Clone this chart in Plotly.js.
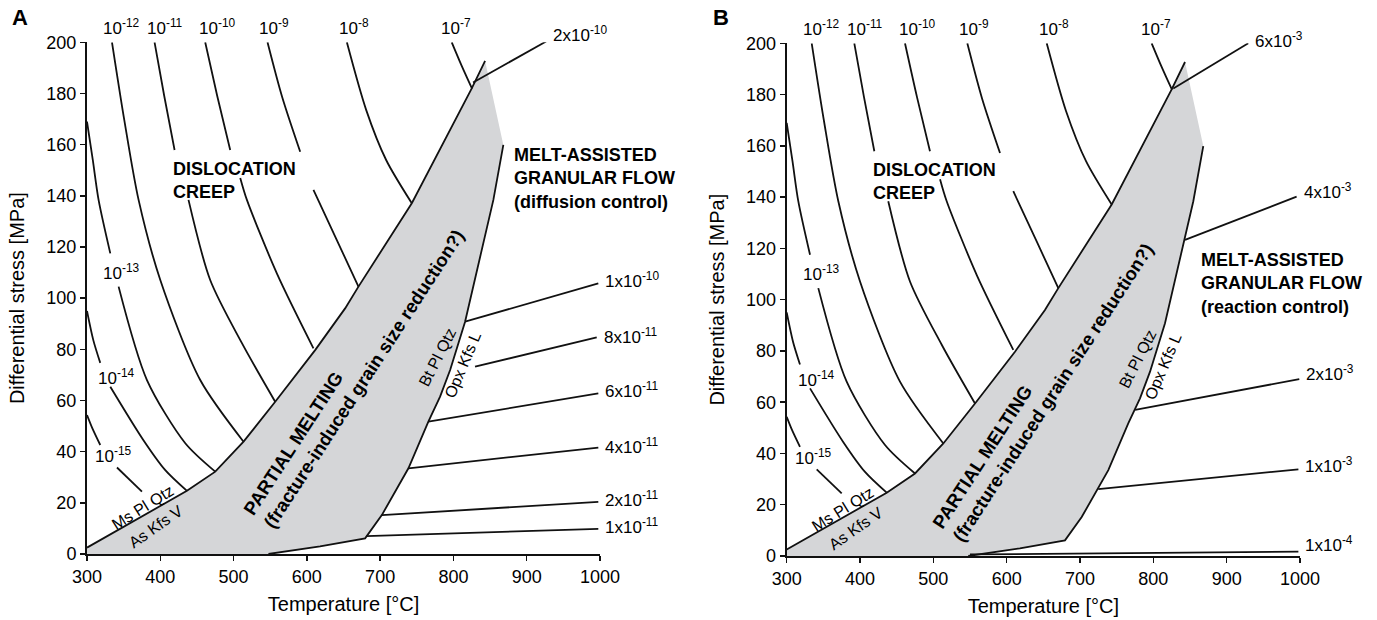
<!DOCTYPE html>
<html><head><meta charset="utf-8">
<script src="https://cdn.plot.ly/plotly-3.0.1.min.js"></script>
<style>html,body{margin:0;padding:0;background:#fff}#chart{width:1377px;height:620px}</style>
</head><body><div id="chart"></div>
<script>
// ---------- DATA ----------
const xTicks = [300, 400, 500, 600, 700, 800, 900, 1000];
const yTicks = [0, 20, 40, 60, 80, 100, 120, 140, 160, 180, 200];

// Dislocation-creep iso-strain-rate contours (T in °C, stress in MPa; null = label gap)
const creepLabels = ['10<sup>-15</sup>', '10<sup>-14</sup>', '10<sup>-13</sup>', '10<sup>-12</sup>',
                     '10<sup>-11</sup>', '10<sup>-10</sup>', '10<sup>-9</sup>', '10<sup>-8</sup>', '10<sup>-7</sup>'];
const c15T = [300, 307.2, 318.1, null, 340.9, 375.0];
const c15S = [54.3, 49.2, 42.6, null, 33.8, 24.4];
const c14T = [300, 308.6, 318.1, null, 331.8, 376.8, 406.8, 436.4];
const c14S = [95.0, 83.6, 74.7, null, 65.4, 44.6, 32.8, 24.7];
const c13T = [300, 307.9, 315.8, 331.8, null, 343.1, 381.8, 434.1, 475.0];
const c13S = [169.0, 154.0, 138.4, 117.5, null, 104.5, 68.0, 43.3, 32.2];
const c12T = [334.1, 350.9, 370.4, 400.0, 454.5, 513.6];
const c12S = [200, 169.6, 138.4, 107.1, 68.0, 43.9];
const c11T = [392.2, 405.4, 419.5, null, 438.5, 468.1, 511.4, 556.8];
const c11S = [200, 179.0, 157.9, null, 138.4, 107.1, 82.4, 59.5];
const c10T = [461.3, 477.7, 495.4, null, 509.1, 518.2, 559.5, 609.0];
const c10S = [200, 179.0, 157.9, null, 147.0, 138.4, 109.4, 80.4];
const c9T = [546.3, 566.3, 590.9, null, 609.0, 640.9, 670.4];
const c9S = [200, 178.6, 157.2, null, 142.3, 122.7, 104.5];
const c8T = [654.6, 680.9, 708.2, 743.2];
const c8S = [200, 173.6, 154.0, 137.1];
const c7T = [797.7, 811.0, 825.4];
const c7S = [200, 191.0, 181.9];

// Partial-melting field boundaries
const pmUpperT = [300, 436.4, 475.0, 513.6, 556.8, 611.3, 652.2, 670.4, 743.2, 825.0, 843.2];
const pmUpperS = [2.5, 24.7, 32.2, 43.9, 59.5, 79.7, 96.0, 104.5, 137.1, 182.0, 192.7];
const pmLowerT = [868.1, 854.5, 815.9, 795.5, 781.8, 765.8, 738.6, 702.3, 679.5, 618.0, 547.6];
const pmLowerS = [159.9, 138.4, 90.8, 71.9, 61.5, 51.7, 33.5, 15.2, 6.1, 3.0, 0];

// Melt-assisted granular flow strain-rate lines, panel A (diffusion control)
const gfALabels = ['2x10<sup>-10</sup>', '1x10<sup>-10</sup>', '8x10<sup>-11</sup>', '6x10<sup>-11</sup>',
                   '4x10<sup>-11</sup>', '2x10<sup>-11</sup>', '1x10<sup>-11</sup>'];
const gfAT0 = [826.8, 815.9, 829.5, 765.8, 738.6, 702.3, 681.0];
const gfAS0 = [184.3, 90.8, 73.2, 51.7, 33.5, 15.2, 7.0];
const gfAT1 = [926.4, 997.7, 995.5, 997.7, 997.7, 997.7, 997.7];
const gfAS1 = [200.3, 105.8, 84.7, 62.8, 41.6, 20.4, 9.8];

// Panel B (reaction control)
const gfBLabels = ['6x10<sup>-3</sup>', '4x10<sup>-3</sup>', '2x10<sup>-3</sup>', '1x10<sup>-3</sup>', '1x10<sup>-4</sup>'];
const gfBT0 = [827.2, 843.2, 775.1, 724.9, 550.0];
const gfBS0 = [182.4, 123.3, 57.0, 26.1, 0.6];
const gfBT1 = [929.4, 995.4, 999.0, 997.8, 997.8];
const gfBS1 = [200, 140.2, 69.0, 33.8, 1.7];

// ---------- DRAWING ----------
const FF = 'Liberation Sans, Arial, Helvetica, sans-serif';
const BLACK = '#111';
const GREY = '#d5d6d8';
const LW = 1.8;
const ML = 87, MR = 77, MT = 42, MB = 64, FW = 1377, FH = 620;
const PW = FW - ML - MR, PH = FH - MT - MB;
const px2x = px => (px - ML) / PW;
const px2y = py => (FH - MB - py) / PH;

const creepT = [c15T, c14T, c13T, c12T, c11T, c10T, c9T, c8T, c7T];
const creepS = [c15S, c14S, c13S, c12S, c11S, c10S, c9S, c8S, c7S];

function line(T, S, xa, ya, w, shape) {
  return {type: 'scatter', mode: 'lines', x: T, y: S, xaxis: xa, yaxis: ya,
          line: {color: BLACK, width: w || LW, shape: shape || 'linear', smoothing: 0.8},
          hoverinfo: 'skip', showlegend: false, connectgaps: false};
}
function ann(xa, ya, x, y, text, o) {
  return Object.assign({xref: xa, yref: ya, x: x, y: y, text: text, showarrow: false,
    font: {family: FF, size: 17, color: '#000'}, xanchor: 'center', yanchor: 'middle'}, o || {});
}

const traces = [];
const annotations = [];

function panel(xa, ya, isB) {
  // grey partial-melting field
  const fx = [300].concat(pmUpperT, pmLowerT, [300]);
  const fy = [0].concat(pmUpperS, pmLowerS, [0]);
  traces.push({type: 'scatter', mode: 'lines', x: fx, y: fy, xaxis: xa, yaxis: ya, fill: 'toself',
               fillcolor: GREY, line: {width: 0, color: GREY}, hoverinfo: 'skip', showlegend: false});
  // creep contours
  for (let i = 0; i < creepT.length; i++) traces.push(line(creepT[i], creepS[i], xa, ya, LW, 'spline'));
  // field boundaries
  traces.push(line(pmUpperT, pmUpperS, xa, ya, LW, 'linear'));
  traces.push(line(pmLowerT, pmLowerS, xa, ya, LW, 'linear'));
  // granular-flow lines
  const T0 = isB ? gfBT0 : gfAT0, S0 = isB ? gfBS0 : gfAS0, T1 = isB ? gfBT1 : gfAT1, S1 = isB ? gfBS1 : gfAS1;
  const labs = isB ? gfBLabels : gfALabels;
  const ysh = isB ? [3, 6, 6, 4, 8] : [8, 3, 1, 3, 2, 3, 3];
  for (let i = 0; i < T0.length; i++) {
    traces.push(line([T0[i], T1[i]], [S0[i], S1[i]], xa, ya, LW));
    const yPos = Math.min(S1[i], 199.9);
    const extra = (S1[i] - yPos) * 2.56;
    annotations.push(ann(xa, ya, T1[i], yPos, labs[i], {xanchor: 'left', xshift: 5, yshift: ysh[i] + extra}));
  }
  // contour labels along the top
  const topT = [346.5, 406.8, 477.3, 555.7, 664.8, 803.3];
  for (let i = 0; i < 6; i++) annotations.push(ann(xa, ya, topT[i], 200, creepLabels[i + 3], {yshift: 15}));
  // contour labels inside
  annotations.push(ann(xa, ya, 346.5, 110.2, creepLabels[2]));
  annotations.push(ann(xa, ya, 339.7, 69.0, creepLabels[1]));
  annotations.push(ann(xa, ya, 335.2, 38.7, creepLabels[0]));
  // field names
  const bold = {font: {family: FF, size: 18, color: '#000'}, align: 'left', xanchor: 'left'};
  annotations.push(ann(xa, ya, 415, 146.1, '<b>DISLOCATION<br>CREEP</b>', bold));
  if (isB) annotations.push(ann(xa, ya, 862.6, 106.2, '<b>MELT-ASSISTED<br>GRANULAR FLOW<br>(reaction control)</b>', bold));
  else annotations.push(ann(xa, ya, 879.6, 146.9, '<b>MELT-ASSISTED<br>GRANULAR FLOW<br>(diffusion control)</b>', bold));
  annotations.push(ann(xa, ya, isB ? 649.5 : 663.5, isB ? 66.5 : 71.0,
    '<b>PARTIAL MELTING<br>(fracture-induced grain size reduction?)</b>',
    {font: {family: FF, size: 18.6, color: '#000'}, align: 'left', textangle: -57}));
  const small = {font: {family: FF, size: 16, color: '#000'}};
  annotations.push(ann(xa, ya, 375.8, 18.2, 'Ms Pl Qtz', Object.assign({textangle: -32}, small)));
  annotations.push(ann(xa, ya, 394.1, 10.7, 'As Kfs V', Object.assign({textangle: -35}, small)));
  annotations.push(ann(xa, ya, 777.9, 76.8, 'Bt Pl Qtz', Object.assign({textangle: -63}, small)));
  annotations.push(ann(xa, ya, 813.4, 73.9, 'Opx Kfs L', Object.assign({textangle: -67}, small)));
}
panel('x', 'y', false);
panel('x2', 'y2', true);

annotations.push(ann('paper', 'paper', px2x(20), px2y(17.5), '<b>A</b>', {font: {family: FF, size: 22, color: '#000'}}));
annotations.push(ann('paper', 'paper', px2x(721), px2y(18), '<b>B</b>', {font: {family: FF, size: 22, color: '#000'}}));

function xAxis(dom, anchor) {
  return {domain: dom, anchor: anchor, range: [300, 1000], tickvals: xTicks, ticktext: xTicks.map(String),
    ticks: 'outside', ticklen: 5, tickwidth: 1.5, tickcolor: BLACK, showline: true, linewidth: 2, linecolor: BLACK,
    showgrid: false, zeroline: false, automargin: false, fixedrange: true,
    tickfont: {family: FF, size: 18, color: '#000'},
    title: {text: 'Temperature [°C]', font: {family: FF, size: 20, color: '#000'}, standoff: 11}};
}
function yAxis(dom, anchor) {
  return {domain: dom, anchor: anchor, range: [0, 200], tickvals: yTicks, ticktext: yTicks.map(String),
    ticks: 'outside', ticklen: 5, tickwidth: 1.5, tickcolor: BLACK, showline: true, linewidth: 2, linecolor: BLACK,
    showgrid: false, zeroline: false, automargin: false, fixedrange: true,
    tickfont: {family: FF, size: 18, color: '#000'},
    title: {text: 'Differential stress [MPa]', font: {family: FF, size: 20, color: '#000'}, standoff: 16}};
}

const layout = {
  width: FW, height: FH, margin: {l: ML, r: MR, t: MT, b: MB, pad: 0},
  paper_bgcolor: '#fff', plot_bgcolor: '#fff', showlegend: false,
  xaxis: xAxis([px2x(86.7), px2x(600)], 'y'),
  yaxis: yAxis([px2y(554), px2y(42.3)], 'x'),
  xaxis2: xAxis([px2x(786.7), px2x(1300)], 'y2'),
  yaxis2: yAxis([px2y(556), px2y(43.3)], 'x2'),
  annotations: annotations
};
layout.xaxis.domain[0] = Math.max(0, layout.xaxis.domain[0]);
layout.xaxis2.domain[1] = Math.min(1, layout.xaxis2.domain[1]);

Plotly.newPlot('chart', traces, layout, {displayModeBar: false, staticPlot: true});
</script></body></html>
